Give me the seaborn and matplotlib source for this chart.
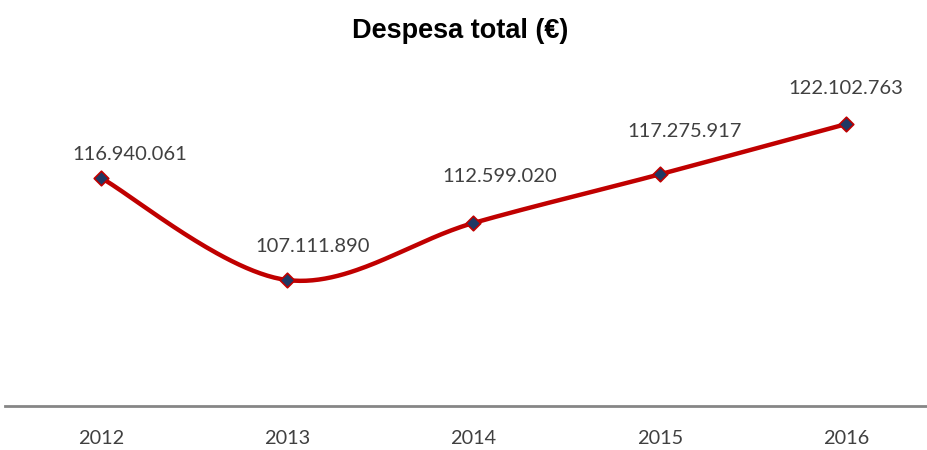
import numpy as np
import pandas as pd
import matplotlib
matplotlib.use("Agg")
import matplotlib.pyplot as plt
import seaborn as sns

# Total expenditure per year (euros)
anos = ["2012", "2013", "2014", "2015", "2016"]
despesa = [116940061, 107111890, 112599020, 117275917, 122102763]
# Label placement relative to each point, in pixels (dx, dy)
label_dx = [29, 25, 26, 25, 0]
label_dy = [23, 34, 46, 43, 36]

sns.set_theme(style="white")
plt.rcParams["font.family"] = ["Lato", "DejaVu Sans"]

df = pd.DataFrame({"ano": anos, "despesa": despesa})
df["pos"] = np.arange(len(df))

fig = plt.figure(figsize=(9.27, 4.5), dpi=100)
ax = fig.add_axes([5 / 927, 44 / 450, 922 / 927, 312 / 450])

# Smoothed line through the points (Catmull-Rom segments as cubic Beziers)
px = df["pos"].to_numpy(float)
py = df["despesa"].to_numpy(float)
xs, ys = [], []
n = len(px)
for i in range(n - 1):
    p0 = np.array([px[max(i - 1, 0)], py[max(i - 1, 0)]])
    p1 = np.array([px[i], py[i]])
    p2 = np.array([px[i + 1], py[i + 1]])
    p3 = np.array([px[min(i + 2, n - 1)], py[min(i + 2, n - 1)]])
    c1 = p1 + (p2 - p0) / 6.0
    c2 = p2 - (p3 - p1) / 6.0
    t = np.linspace(0, 1, 60)[:, None]
    seg = ((1 - t) ** 3) * p1 + 3 * ((1 - t) ** 2) * t * c1 + 3 * (1 - t) * t ** 2 * c2 + t ** 3 * p2
    xs.extend(seg[:, 0]); ys.extend(seg[:, 1])
curve = pd.DataFrame({"x": xs, "y": ys})
sns.lineplot(data=curve, x="x", y="y", sort=False, color="#C00000", lw=3.2,
             ax=ax, estimator=None, solid_capstyle="round")

sns.scatterplot(data=df, x="pos", y="despesa", marker="D", s=55,
                color="#1F3864", edgecolor="#C00000", linewidth=1.2,
                ax=ax, zorder=5)

for i, row in df.iterrows():
    txt = f"{row['despesa']:,}".replace(",", ".")
    ax.annotate(txt, (row["pos"], row["despesa"]),
                xytext=(label_dx[i], label_dy[i]), textcoords="offset pixels",
                ha="center", va="center", fontsize=14.5, color="#404040")

ax.set_xlim(-0.515, 4.435)
ax.set_ylim(95e6, 125e6)
ax.set_xticks(df["pos"])
ax.set_xticklabels(anos, fontsize=14.3, color="#404040")
ax.tick_params(axis="x", length=0, pad=17)
ax.set_yticks([])
ax.set_xlabel("")
ax.set_ylabel("")
for s in ["top", "left", "right"]:
    ax.spines[s].set_visible(False)
ax.spines["bottom"].set_color("#868686")
ax.spines["bottom"].set_linewidth(2)

fig.text(460 / 927, 1 - 31 / 450, "Despesa total (€)", ha="center", va="center",
         fontsize=19.5, fontweight="bold", family=["Liberation Sans", "DejaVu Sans"],
         color="black")

fig.savefig("out.png", dpi=100, facecolor="white")
